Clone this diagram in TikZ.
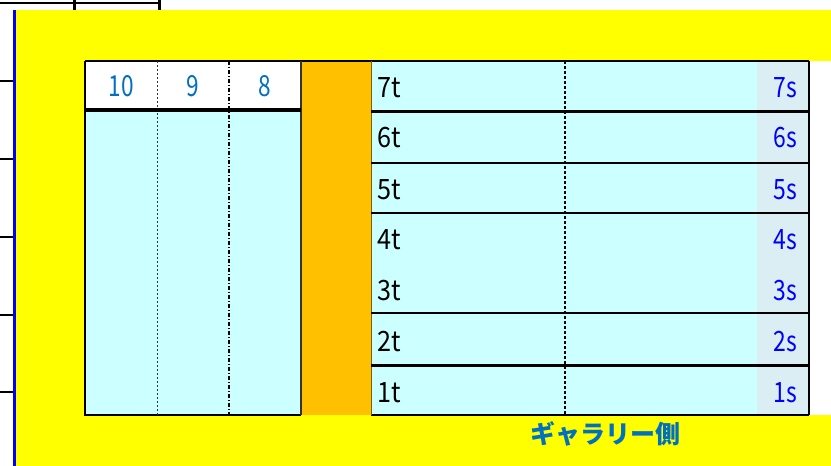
\documentclass[tikz,border=0pt]{standalone}
\usepackage{fontspec}
\setmainfont{Noto Sans CJK JP}
\newfontfamily\jpfont{Noto Sans CJK JP}
\definecolor{cyanc}{HTML}{CCFFFF}
\definecolor{orangec}{HTML}{FFC000}
\definecolor{graybl}{HTML}{DAEEF3}
\definecolor{hblue}{HTML}{0070C0}
\definecolor{sblue}{HTML}{0000FF}
\definecolor{yel}{HTML}{FFFF00}
\definecolor{olivec}{HTML}{7F6000}
\newcommand\narrow[2]{\scalebox{#1}[1]{#2}}
\begin{document}
\begin{tikzpicture}[x=1pt,y=-1pt,
  thinline/.style={line width=1.2pt,black},
  thickline/.style={line width=3pt,black},
  tlab/.style={anchor=base west,inner sep=0pt,font=\fontsize{28}{28}\selectfont},
  slab/.style={anchor=base east,inner sep=0pt,text=sblue,font=\fontsize{28}{28}\selectfont},
  hlab/.style={anchor=base,inner sep=0pt,text=hblue,font=\fontsize{29}{29}\selectfont}]
\useasboundingbox (0,0) rectangle (831,466);
% background
\fill[yel] (16,10) rectangle (831,466);
\fill[blue] (13,10) rectangle (16,466);
\draw[thinline] (0,3) -- (159,3);
\draw[thickline] (74,0) -- (74,10);
\draw[thickline] (159,0) -- (159,10);
\foreach \yy in {81,159,237,315,392} \draw[thinline] (0,\yy) -- (13,\yy);
% fills
\fill[white] (85,61) rectangle (301,110);
\fill[cyanc] (85,110) rectangle (301,415);
\fill[orangec] (301,61) rectangle (371,415);
\fill[cyanc] (371,61) rectangle (757,415);
\fill[graybl] (757,61) rectangle (809,415);
\fill[white] (809,61) rectangle (831,415);
% borders
\draw[thinline] (85,61) -- (809,61);
\draw[thinline] (85,61) -- (85,415) -- (301,415);
\draw[thinline] (371,415) -- (809,415);
\draw[line width=2pt,black!80] (301,61) -- (301,415);
\draw[line width=1pt,olivec] (371,61) -- (371,415);
\draw[line width=2.5pt,black] (809,61) -- (809,415);
% dotted separators
\draw[line width=0.8pt,black!80,dash pattern=on 2pt off 2pt] (157,61) -- (157,415);
\draw[line width=1.3pt,black,dash pattern=on 4pt off 2pt on 1pt off 2pt] (229,61) -- (229,415);
\draw[line width=1.5pt,black,dash pattern=on 3pt off 2pt] (565,61) -- (565,415);
% row lines
\draw[line width=3.5pt,black] (85,110) -- (301,110);
\draw[thickline] (371,111) -- (809,111);
\draw[thickline] (371,365) -- (809,365);
\foreach \yy in {163,213,313} \draw[thinline] (371,\yy) -- (809,\yy);
% header labels
\node[hlab] (h10) at (121,96) {\narrow{0.78}{10}};
\node[hlab] (h9) at (193,96) {\narrow{0.78}{9}};
\node[hlab] (h8) at (265,96) {\narrow{0.78}{8}};
% t labels
\node[tlab] (t7) at (377,97) {\narrow{0.9}{7t}};
\node[tlab] (t6) at (377,147) {\narrow{0.9}{6t}};
\node[tlab] (t5) at (377,199) {\narrow{0.9}{5t}};
\node[tlab] (t4) at (377,249) {\narrow{0.9}{4t}};
\node[tlab] (t3) at (377,300) {\narrow{0.9}{3t}};
\node[tlab] (t2) at (377,351) {\narrow{0.9}{2t}};
\node[tlab] (t1) at (377,402) {\narrow{0.9}{1t}};
% s labels
\node[slab] (s7) at (797,97) {\narrow{0.82}{7s}};
\node[slab] (s6) at (797,147) {\narrow{0.82}{6s}};
\node[slab] (s5) at (797,199) {\narrow{0.82}{5s}};
\node[slab] (s4) at (797,249) {\narrow{0.82}{4s}};
\node[slab] (s3) at (797,300) {\narrow{0.82}{3s}};
\node[slab] (s2) at (797,351) {\narrow{0.82}{2s}};
\node[slab] (s1) at (797,402) {\narrow{0.82}{1s}};
% gallery label
\node[anchor=base,inner sep=0pt,text=hblue,font=\jpfont\bfseries\fontsize{25}{25}\selectfont] (gal) at (605,443) {ギャラリー側};
\end{tikzpicture}
\end{document}
